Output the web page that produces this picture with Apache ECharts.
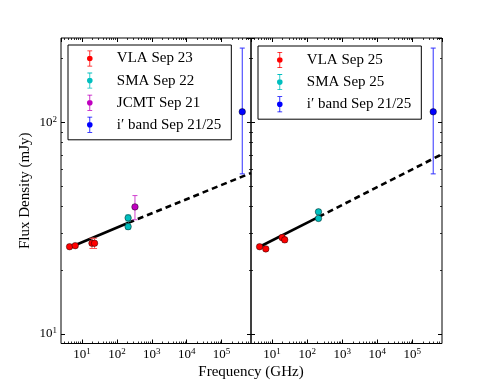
<!DOCTYPE html>
<html><head><meta charset="utf-8">
<script src="https://cdn.jsdelivr.net/npm/echarts@6/dist/echarts.min.js"></script>
<style>html,body{margin:0;padding:0;background:#fff}#c{width:491px;height:382px}</style>
</head><body><div id="c"></div>
<script>
// ---------- data: left panel (Sep 21-23) ----------
const vla23Freq = [4.4, 6.4, 19.3, 22.9];
const vla23Flux = [25.8, 26.1, 26.8, 26.8];
const vla23Err  = [0.5, 0.5, 1.5, 1.5];
const sma22Freq = [210, 210];
const sma22Flux = [35.3, 32.1];
const sma22Err  = [1.2, 1.0];
const jcmt21Freq = [330];
const jcmt21Flux = [39.8];
const jcmt21Err  = [5.2];
const fitLeftSolidFreq = [4.4, 215];
const fitLeftSolidFlux = [25.6, 33.5];
const fitLeftDashFreq  = [215, 7e5];
const fitLeftDashFlux  = [33.5, 57.5];
// ---------- data: right panel (Sep 25) ----------
const vla25Freq = [4.4, 6.6, 19.3, 22.9];
const vla25Flux = [25.8, 25.2, 28.5, 27.8];
const vla25Err  = [0.5, 0.5, 0.8, 0.8];
const sma25Freq = [210, 210];
const sma25Flux = [37.7, 35.1];
const sma25Err  = [0.8, 0.8];
const fitRightSolidFreq = [4.4, 214];
const fitRightSolidFlux = [25.8, 35.7];
const fitRightDashFreq  = [214, 7e5];
const fitRightDashFlux  = [35.7, 70.6];
// ---------- data: i' band (both panels) ----------
const ibandFreq = [3.93e5];
const ibandFlux = [112];
const ibandLow  = [57];
const ibandHigh = [224];
// ---------- axes ----------
const xMin = 2.5, xMax = 7e5, yMin = 9, yMax = 250;
const xMinorTicks = [3,4,5,6,7,8,9, 20,30,40,50,60,70,80,90, 200,300,400,500,600,700,800,900,
  2e3,3e3,4e3,5e3,6e3,7e3,8e3,9e3, 2e4,3e4,4e4,5e4,6e4,7e4,8e4,9e4, 2e5,3e5,4e5,5e5,6e5];
const yMinorTicks = [20,30,40,50,60,70,80,90,200];
const legendLeft  = ['VLA Sep 23', 'SMA Sep 22', 'JCMT Sep 21', 'i\u2032 band Sep 21/25'];
const legendRight = ['VLA Sep 25', 'SMA Sep 25', 'i\u2032 band Sep 21/25'];

const FONT = 'Liberation Serif';
const C = {red:'#ff0000', cyan:'#00bfbf', mag:'#bf00bf', blue:'#0000ff'};
const BAR = {red:'#ff5555', cyan:'#33cccc', mag:'#d040d0', blue:'#3030ff'};

function pts(f, v) { return f.map((x, i) => [x, v[i]]); }
function errSym(f, v, e) { return f.map((x, i) => [x, v[i], v[i] - e[i], v[i] + e[i]]); }
function errAsym(f, v, lo, hi) { return f.map((x, i) => [x, v[i], lo[i], hi[i]]); }

function errSeries(data, color, g) {
  return {
    type: 'custom', xAxisIndex: g * 4, yAxisIndex: g * 4, z: 3, silent: true,
    data: data, encode: {x: 0, y: 1},
    renderItem: function (params, api) {
      const x = api.value(0);
      const a = api.coord([x, api.value(2)]);
      const b = api.coord([x, api.value(3)]);
      const cw = 2.5;
      const st = {stroke: color, lineWidth: 1};
      return {type: 'group', children: [
        {type: 'line', shape: {x1: a[0], y1: a[1], x2: b[0], y2: b[1]}, style: st},
        {type: 'line', shape: {x1: a[0] - cw, y1: a[1], x2: a[0] + cw, y2: a[1]}, style: st},
        {type: 'line', shape: {x1: b[0] - cw, y1: b[1], x2: b[0] + cw, y2: b[1]}, style: st}
      ]};
    }
  };
}
function scat(name, data, color, g) {
  return {type: 'scatter', name: name, xAxisIndex: g * 4, yAxisIndex: g * 4, z: 4,
    data: data, symbol: 'circle', symbolSize: 6.5,
    itemStyle: {color: color, borderColor: 'rgba(0,0,0,0.75)', borderWidth: 0.6, opacity: 1}};
}
function fit(data, dashed, g) {
  return {type: 'line', xAxisIndex: g * 4, yAxisIndex: g * 4, z: 2, data: data, symbol: 'none', silent: true,
    lineStyle: {color: '#000', width: 2.6, type: dashed ? [6, 4] : 'solid'}};
}

const supRich = {
  b: {fontFamily: FONT, fontSize: 13, color: '#000', lineHeight: 15},
  s: {fontFamily: FONT, fontSize: 9, color: '#000', verticalAlign: 'top', lineHeight: 15}
};
function fmt(v) { return '{b|10}{s|' + Math.round(Math.log10(v)) + '}'; }

function tick(len, vals) {
  const t = {show: true, inside: true, length: len, lineStyle: {color: '#000', width: len > 3 ? 1 : 0.8}};
  if (vals) t.customValues = vals;
  return t;
}

function xAxesFor(g) {
  const base = {type: 'log', logBase: 10, gridIndex: g, min: xMin, max: xMax,
    splitLine: {show: false}, axisLine: {show: false}, axisLabel: {show: false}};
  return [
    Object.assign({}, base, {position: 'bottom', axisTick: tick(4),
      axisLabel: {show: true, showMinLabel: false, showMaxLabel: false, margin: 4, formatter: fmt, rich: supRich}}),
    Object.assign({}, base, {position: 'bottom', axisTick: tick(2, xMinorTicks)}),
    Object.assign({}, base, {position: 'top', axisTick: tick(4)}),
    Object.assign({}, base, {position: 'top', axisTick: tick(2, xMinorTicks)})
  ];
}
function yAxesFor(g) {
  const base = {type: 'log', logBase: 10, gridIndex: g, min: yMin, max: yMax,
    splitLine: {show: false}, axisLine: {show: false}, axisLabel: {show: false}};
  const first = Object.assign({}, base, {position: 'left', axisTick: tick(4)});
  if (g === 0) {
    first.axisLabel = {show: true, showMinLabel: false, showMaxLabel: false, margin: 4, formatter: fmt, rich: supRich, align: 'right'};
    first.name = 'Flux Density (mJy)';
    first.nameLocation = 'middle';
    first.nameGap = 28;
    first.nameTextStyle = {fontFamily: FONT, fontSize: 15, color: '#000'};
  }
  return [
    first,
    Object.assign({}, base, {position: 'left', axisTick: tick(2, yMinorTicks)}),
    Object.assign({}, base, {position: 'right', axisTick: tick(4)}),
    Object.assign({}, base, {position: 'right', axisTick: tick(2, yMinorTicks)})
  ];
}

const ICON = 'path://M2,0H8V1H2Z M2,19H8V20H2Z M4.5,0H5.5V20H4.5Z M1.5,10A3.5,3.5 0 1,1 8.5,10A3.5,3.5 0 1,1 1.5,10Z';
function legendFor(names, left, top, padding) {
  return {
    data: names.map(n => ({name: n, icon: ICON})),
    orient: 'vertical', left: left, top: top, padding: padding,
    itemWidth: 36, itemHeight: 16, itemGap: 6.1, selectedMode: false,
    itemStyle: {borderWidth: 0},
    backgroundColor: '#fff', borderColor: '#000', borderWidth: 1,
    textStyle: {fontFamily: FONT, fontSize: 15, color: '#000', padding: [0, 0, 0, 4]}
  };
}

const option = {
  animation: false,
  backgroundColor: '#fff',
  grid: [
    {left: 61, top: 38, width: 190, height: 305.5, show: true, borderColor: '#000', borderWidth: 1, backgroundColor: 'transparent'},
    {left: 251, top: 38, width: 191, height: 305.5, show: true, borderColor: '#000', borderWidth: 1, backgroundColor: 'transparent'}
  ],
  xAxis: xAxesFor(0).concat(xAxesFor(1)),
  yAxis: yAxesFor(0).concat(yAxesFor(1)),
  legend: [
    legendFor(legendLeft, 68, 45, [5.5, 10, 7, 19]),
    legendFor(legendRight, 258, 46, [6, 10, 7, 19])
  ],
  graphic: [{type: 'text', x: 251, y: 372, style: {text: 'Frequency (GHz)', font: '15px "Liberation Serif"', fill: '#000', textAlign: 'center', textVerticalAlign: 'middle'}}],
  series: [
    // left panel
    fit(pts(fitLeftSolidFreq, fitLeftSolidFlux), false, 0),
    fit(pts(fitLeftDashFreq, fitLeftDashFlux), true, 0),
    errSeries(errSym(vla23Freq, vla23Flux, vla23Err), BAR.red, 0),
    errSeries(errSym(sma22Freq, sma22Flux, sma22Err), BAR.cyan, 0),
    errSeries(errSym(jcmt21Freq, jcmt21Flux, jcmt21Err), BAR.mag, 0),
    errSeries(errAsym(ibandFreq, ibandFlux, ibandLow, ibandHigh), BAR.blue, 0),
    scat(legendLeft[0], pts(vla23Freq, vla23Flux), C.red, 0),
    scat(legendLeft[1], pts(sma22Freq, sma22Flux), C.cyan, 0),
    scat(legendLeft[2], pts(jcmt21Freq, jcmt21Flux), C.mag, 0),
    scat(legendLeft[3], pts(ibandFreq, ibandFlux), C.blue, 0),
    // right panel
    fit(pts(fitRightSolidFreq, fitRightSolidFlux), false, 1),
    fit(pts(fitRightDashFreq, fitRightDashFlux), true, 1),
    errSeries(errSym(vla25Freq, vla25Flux, vla25Err), BAR.red, 1),
    errSeries(errSym(sma25Freq, sma25Flux, sma25Err), BAR.cyan, 1),
    errSeries(errAsym(ibandFreq, ibandFlux, ibandLow, ibandHigh), BAR.blue, 1),
    scat(legendRight[0], pts(vla25Freq, vla25Flux), C.red, 1),
    scat(legendRight[1], pts(sma25Freq, sma25Flux), C.cyan, 1),
    scat(legendRight[2], pts(ibandFreq, ibandFlux), C.blue, 1)
  ]
};
const chart = echarts.init(document.getElementById('c'), null, {renderer: 'canvas'});
chart.setOption(option);
</script></body></html>
